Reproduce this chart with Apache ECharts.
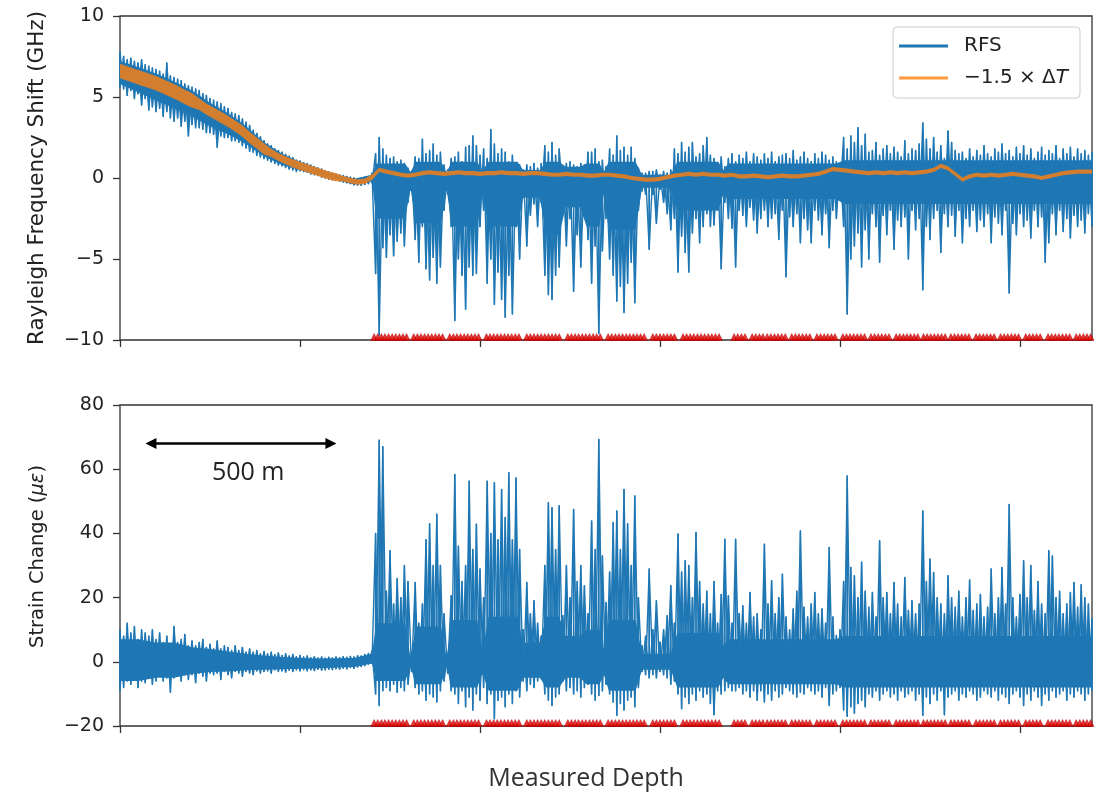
<!DOCTYPE html>
<html>
<head>
<meta charset="utf-8">
<title>Rayleigh frequency shift and strain change vs measured depth</title>
<script src="https://cdn.jsdelivr.net/npm/echarts@6/dist/echarts.min.js"></script>
<style>
  html, body { margin: 0; padding: 0; background: #ffffff; }
  #chart { width: 1107px; height: 792px; }
</style>
</head>
<body>
<div id="chart"></div>
<script>
// ---- data -----------------------------------------------------------------
// Depth sampling of the envelope arrays (m). Each entry holds the upper and
// lower extent of the trace inside that depth bin.
const depthStep = 10;

// Rayleigh frequency shift, GHz (0 m .. 2700 m)
const rfsHigh = [
  7.8,7.5,7.3,7.4,7.2,7.1,7.3,7.0,6.9,6.8,
  6.7,6.6,6.4,7.1,6.3,6.2,6.1,6.0,5.8,5.7,
  5.6,5.5,5.4,5.2,5.1,4.9,4.8,4.7,4.6,4.4,
  4.3,4.05,3.95,3.85,3.65,3.45,3.25,2.95,2.75,2.55,
  2.3,2.1,2.0,1.8,1.7,1.6,1.45,1.35,1.25,1.1,
  1.05,0.95,0.9,0.8,0.7,0.62,0.55,0.45,0.38,0.3,
  0.25,0.2,0.15,0.1,0.05,0.0,-0.05,-0.02,0.05,0.1,
  0.3,
  1.5,2.5,1.8,1.4,1.2,1.3,1.0,1.1,0.9,0.6,
  0.4,1.3,1.2,2.4,1.5,1.7,2.1,1.4,1.6,0.8,
  0.5,1.2,1.3,1.6,1.0,1.9,2.0,2.6,2.0,1.4,
  1.8,1.2,3.0,2.1,1.5,1.8,1.6,1.0,1.4,0.9,
  0.8,0.5,0.8,0.7,0.9,0.6,0.9,2.0,1.6,2.2,
  1.4,1.8,0.6,0.9,1.0,0.8,0.7,0.9,0.8,1.6,
  1.6,1.8,1.0,1.1,0.7,1.8,1.4,2.6,1.7,1.9,
  1.4,1.9,1.2,0.6,0.3,0.3,0.4,0.4,0.5,0.2,
  0.4,0.3,0.5,1.8,1.5,2.2,1.6,1.9,2.2,1.3,
  1.5,2.0,2.5,1.4,1.2,0.8,1.3,0.7,1.2,1.5,
  1.0,1.4,1.2,1.6,1.0,1.5,1.3,1.1,1.5,1.2,
  1.6,1.0,1.3,1.4,1.5,1.2,1.7,1.1,1.3,1.6,
  1.2,1.0,1.5,1.2,1.6,1.4,1.1,1.3,1.0,0.9,
  2.5,1.8,2.6,2.2,3.1,2.0,2.7,1.6,1.7,2.2,
  1.4,1.8,2.0,1.5,1.9,1.6,1.3,2.3,1.5,1.8,
  1.7,2.1,3.4,2.4,1.8,2.5,1.6,2.0,1.2,2.9,
  2.2,1.7,1.5,1.6,1.2,1.8,1.3,1.7,1.4,2.0,
  1.5,1.3,1.8,1.6,2.1,1.5,1.7,1.3,1.9,1.5,
  2.0,1.4,1.8,1.2,1.6,1.9,1.4,1.7,1.5,2.0,
  1.2,1.8,1.5,1.9,1.3,1.8,1.5,1.7,1.4,1.6
];
const rfsLow = [
  5.6,5.5,5.1,5.4,4.9,5.2,4.5,4.9,4.2,4.4,
  4.1,4.3,3.8,4.1,3.7,3.5,3.7,3.2,3.5,2.6,
  3.3,3.1,3.1,3.0,2.8,2.8,2.7,1.9,2.6,2.5,
  2.5,2.3,2.3,2.2,2.0,1.85,1.65,1.6,1.4,1.3,
  1.2,1.1,1.0,0.9,0.8,0.75,0.65,0.55,0.5,0.4,
  0.45,0.4,0.35,0.25,0.2,0.15,0.05,0.0,-0.08,-0.12,
  -0.15,-0.2,-0.25,-0.3,-0.35,-0.42,-0.45,-0.45,-0.4,-0.35,
  -0.3,
  -5.9,-9.7,-4.3,-4.9,-3.5,-4.8,-3.9,-3.4,-4.2,-1.5,
  -0.8,-3.8,-5.2,-3.0,-5.6,-6.3,-4.9,-6.5,-5.5,-2.0,
  -1.0,-3.0,-8.8,-5.0,-6.0,-8.1,-5.5,-6.0,-5.9,-3.0,
  -2.0,-6.5,-5.0,-7.8,-5.8,-7.5,-8.6,-6.0,-8.4,-3.0,
  -5.0,-1.2,-4.2,-2.3,-1.6,-3.0,-1.5,-6.0,-7.2,-7.5,
  -6.0,-5.5,-1.0,-4.2,-2.5,-7.0,-3.5,-5.5,-2.0,-3.8,
  -6.5,-4.2,-9.6,-4.5,-2.5,-5.0,-6.0,-7.6,-6.7,-8.3,
  -6.5,-5.2,-7.7,-2.0,-0.8,-1.0,-4.4,-1.0,-2.8,-0.7,
  -1.5,-2.2,-3.2,-2.5,-5.8,-3.6,-4.6,-5.8,-3.4,-2.5,
  -4.0,-3.0,-2.2,-3.0,-2.9,-2.0,-5.6,-1.5,-2.5,-3.1,
  -5.5,-2.0,-2.3,-3.0,-1.8,-2.6,-3.4,-2.5,-2.0,-3.0,
  -2.5,-2.2,-3.8,-2.0,-6.1,-2.4,-3.0,-2.2,-4.0,-2.5,
  -3.2,-4.0,-2.0,-2.6,-3.5,-2.2,-4.3,-2.0,-2.5,-1.0,
  -3.0,-8.4,-5.0,-4.2,-3.4,-5.5,-3.2,-5.0,-2.2,-3.0,
  -5.2,-2.3,-3.5,-2.0,-4.4,-2.6,-3.0,-2.4,-5.0,-2.0,
  -3.2,-2.5,-6.9,-3.0,-3.8,-2.5,-2.0,-4.6,-2.2,-3.0,
  -2.3,-3.6,-2.0,-4.0,-2.5,-3.0,-2.0,-3.3,-2.6,-3.0,
  -2.2,-4.0,-2.4,-2.8,-3.5,-2.0,-7.1,-2.8,-3.5,-2.2,
  -3.0,-2.6,-3.7,-2.0,-3.0,-2.4,-5.2,-4.0,-2.2,-3.5,
  -2.0,-3.3,-2.5,-3.7,-2.3,-3.0,-2.6,-3.4,-2.2,-3.0
];

// Dense (solid) part of both traces, at the depths where it changes (m)
const coreDepths = [
  0,50,100,150,200,250,300,350,400,450,500,550,600,650,700,
  712,792,806,808,822,892,906,908,922,992,1006,1008,1024,1104,
  1120,1166,1184,1220,1238,1278,1296,1332,1344,1358,1432,1450,
  1530,1548,1662,1676,1690,1990,2010,2700
];
const rfsCoreHigh = [
  7.2,6.85,6.45,5.95,5.4,4.65,4.0,3.2,2.2,1.5,1.0,0.6,0.22,-0.04,0.2,
  0.9,0.9,0.4,0.4,1.0,1.0,0.4,0.4,1.0,1.0,0.5,0.5,1.0,1.0,
  0.5,0.5,1.0,1.0,0.7,0.7,0.9,0.9,0.4,1.0,1.0,0.2,
  0.2,1.0,1.0,0.5,0.9,0.9,1.1,1.1
];
const rfsCoreLow = [
  5.8,5.3,4.8,4.3,3.8,3.2,2.7,2.1,1.35,0.8,0.5,0.15,-0.13,-0.4,-0.2,
  -2.5,-2.5,-0.8,-0.8,-2.8,-2.8,-0.8,-0.8,-3.0,-3.0,-1.0,-1.0,-3.0,-3.0,
  -1.2,-1.2,-3.5,-3.5,-1.8,-1.8,-3.0,-3.0,-1.0,-3.2,-3.2,-0.6,
  -0.6,-2.0,-2.0,-1.0,-1.3,-1.3,-1.6,-1.6
];
const strainCoreHigh = [
  7,7,6,6,4.5,4,3.2,2.5,2,1.5,1.2,1,1.1,1.2,2.5,
  12,12,2,2,11,11,2,2,13,13,4,4,14,14,
  6,6,14,14,8,8,10,10,4,13,13,2.5,
  2.5,9,9,5,7,7,8,8
];
const strainCoreLow = [
  -6,-6,-5,-5,-3.8,-3.2,-3,-2.6,-2.5,-2.3,-2.2,-2,-1.8,-1.6,-0.5,
  -6,-6,-2,-2,-7,-7,-2,-2,-8,-8,-4,-4,-9,-9,
  -5,-5,-8,-8,-5,-5,-7,-7,-4,-9,-9,-2.5,
  -2.5,-8,-8,-5,-7,-7,-8,-8
];

// -1.5 x temperature change (GHz), sampled every 20 m: centre and half band
const tempStep = 20;
const tempMid = [
  6.6,6.45,6.3,6.15,6.0,5.85,5.65,5.45,5.25,5.0,
  4.8,4.55,4.25,4.0,3.75,3.5,3.2,2.9,2.5,2.15,
  1.8,1.55,1.3,1.1,0.9,0.75,0.6,0.45,0.3,0.15,
  0.05,-0.05,-0.15,-0.25,-0.2,0.05,0.5,0.4,0.3,0.2,
  0.15,0.2,0.3,0.35,0.3,0.25,0.3,0.35,0.3,0.3,
  0.25,0.3,0.3,0.35,0.3,0.3,0.25,0.3,0.3,0.25,
  0.2,0.2,0.25,0.2,0.2,0.15,0.15,0.2,0.2,0.15,
  0.1,0.0,-0.05,-0.1,-0.1,-0.05,0.05,0.15,0.2,0.25,
  0.2,0.25,0.2,0.2,0.15,0.2,0.1,0.1,0.15,0.1,
  0.05,0.1,0.15,0.1,0.1,0.15,0.2,0.25,0.4,0.55,
  0.5,0.45,0.4,0.35,0.3,0.35,0.3,0.35,0.3,0.35,
  0.3,0.35,0.4,0.5,0.75,0.6,0.25,-0.1,0.1,0.2,
  0.15,0.2,0.15,0.2,0.25,0.2,0.15,0.1,0.0,0.1,
  0.2,0.3,0.35,0.4,0.4,0.4
];
const tempHalfWidth = [
  0.45,0.45,0.45,0.45,0.45,0.45,0.45,0.45,0.45,0.45,
  0.45,0.35,0.35,0.35,0.35,0.35,0.35,0.35,0.35,0.35,
  0.35,0.25,0.25,0.25,0.25,0.25,0.25,0.25,0.25,0.25,
  0.25,0.17,0.17,0.17,0.17,0.17,0.13,0.13,0.13,0.13,
  0.13,0.13,0.13,0.13,0.13,0.13,0.13,0.13,0.13,0.13,
  0.13,0.13,0.13,0.13,0.13,0.13,0.13,0.13,0.13,0.13,
  0.13,0.13,0.13,0.13,0.13,0.13,0.13,0.13,0.13,0.13,
  0.13,0.13,0.13,0.13,0.13,0.13,0.13,0.13,0.13,0.13,
  0.13,0.13,0.13,0.13,0.13,0.13,0.13,0.13,0.13,0.13,
  0.13,0.13,0.13,0.13,0.13,0.13,0.13,0.13,0.13,0.13,
  0.13,0.13,0.13,0.13,0.13,0.13,0.13,0.13,0.13,0.13,
  0.13,0.13,0.13,0.13,0.13,0.13,0.13,0.13,0.13,0.13,
  0.13,0.13,0.13,0.13,0.13,0.13,0.13,0.13,0.13,0.13,
  0.13,0.13,0.13,0.13,0.13,0.13
];

// Strain change, microstrain (0 m .. 2700 m)
const strainHigh = [
  10,8,12,9,11,7,10,9,8,10,
  7,9,6,8,5.5,11,6,7,8.5,5,
  6.5,5,6,7,4.5,5.5,4,6.5,4,5,
  4.5,3.5,5,3.5,4.5,3,4,3,3.5,2.5,
  3.2,2.5,3,2.2,2.8,2,2.5,1.8,2.3,1.6,
  2,1.5,1.8,1.3,1.6,1.2,1.5,1.1,1.4,1.2,
  1.5,1.3,1.6,1.4,1.7,1.5,1.9,1.8,2.3,2.6,
  3.5,
  40,69,67,22,34.6,18,26,20,30,25,
  3,24.7,12,18,38,43,30,46,30,15,
  2.5,20.6,58.4,36,25,30,56.3,35,42.9,28.9,
  20,56.3,40,55.8,38,53.7,45,58.9,38,57.3,
  35,10,24.7,15,19,12,8,30,49.6,48,
  35,48.6,14.4,30,20,47.5,25,30,23.7,15,
  43.9,35,69.3,33,18.5,28,43.4,47,35,53.7,
  43,30,51.7,20,5,8,28.9,10,19,6.1,
  10,14.4,23.7,12,39.8,28,31.5,30,20,40.3,
  25,18,22,15,25,12,21,38.2,20.6,12,
  38.2,15,17.5,12,21.6,14,15,10,36.6,18,
  25.3,15,20,27.3,14,10,16.5,22,40.8,17,
  14,18,21.6,15,16.5,12,35.6,14,8.2,10,
  25,57.9,29.4,26.8,20,31,22,17,21.6,14,
  37.7,20,21.6,15,24.7,18,14,26.3,16,19,
  15,18,47,25,32,27.8,20,18,15,26.8,
  20,17,22,14,20,25.5,16,18,21,14,
  17,28.9,15,20,29.4,18,49,20,14,21,
  31.5,20,30,16,25,18,15,34.6,33,20,
  22,15,18,21.6,24.7,17,24,20,18,13.4
];
const strainLow = [
  -9,-8,-6,-7,-5.5,-8,-6,-6.5,-5,-7,
  -6,-4.5,-6,-5,-9.5,-5,-4.5,-6,-4,-5.5,
  -4,-6.5,-3.5,-4.5,-6,-3.5,-4,-3.5,-5.5,-3,
  -4,-5,-3,-3.5,-4.5,-3,-3.5,-4,-2.8,-3.5,
  -3,-2.8,-3.5,-2.5,-3,-2.8,-3.2,-2.6,-3,-2.5,
  -2.8,-2.4,-2.8,-2.5,-2.7,-2.3,-2.6,-2.5,-2.3,-2.4,
  -2.2,-2.3,-2.0,-2.2,-1.8,-2.0,-1.6,-1.5,-1.2,-0.8,
  -0.5,
  -10,-13.6,-9,-8,-9,-7,-9.5,-8,-9,-7,
  -3,-8,-10,-9,-12,-10,-11,-12.5,-9,-6,
  -3.5,-9,-10,-13,-9,-14,-11,-15,-10,-12,
  -8,-13,-10,-17.7,-12,-11,-14,-10,-13,-9,
  -11,-6,-9,-7,-8,-6,-5,-10,-12,-13.6,
  -11,-10,-6,-9,-8,-10,-9,-11,-8,-7,
  -10,-12,-10.5,-9,-7,-10,-12.5,-16.7,-13,-15,
  -12,-11,-14,-8,-3,-4,-5,-4,-5,-3,
  -4,-5,-7,-6,-10,-14.6,-11,-13,-10,-12,
  -9,-11,-10,-13,-16.5,-9,-10,-9,-8,-9,
  -9,-8,-10,-9,-11,-9,-12,-9,-12.5,-10,
  -12,-9,-11,-10,-8,-9,-10,-11,-9.5,-10,
  -8,-9,-10,-9,-11,-8,-13.6,-10,-9,-8,
  -15,-17,-14,-16,-13,-12,-14,-10,-11,-9,
  -12,-10,-9,-11,-10,-12,-9,-11,-10,-9,
  -12,-10,-16.7,-11,-13,-10,-12,-9,-16.5,-11,
  -10,-9,-12,-10,-11,-9,-10,-12,-11,-9,
  -10,-11,-9,-12,-10,-11,-13,-10,-9,-11,
  -13.6,-10,-12,-9,-11,-13.6,-10,-12,-9,-11,
  -10,-9,-12,-10,-11,-9,-10,-12,-10,-9
];

// Depths (m) flagged by the red markers along the bottom of both panels
const gaugeDepths = [
  706,716,726,736,746,756,766,776,786,796,
  816,826,836,846,856,866,876,886,896,
  916,926,936,946,956,966,976,986,996,
  1018,1028,1038,1048,1058,1068,1078,1088,1098,1108,
  1130,1140,1150,1160,1170,1180,1190,1200,1210,1220,
  1244,1254,1264,1274,1284,1294,1304,1314,1324,1334,
  1356,1366,1376,1386,1396,1406,1416,1426,1436,1446,1456,
  1480,1490,1500,1510,1520,1530,1540,
  1564,1574,1584,1594,1604,1614,1624,1634,1644,1654,1664,
  1706,1716,1726,1736,
  1756,1766,1776,1786,
  1798,1808,1818,1828,1838,1848,
  1866,1876,1886,1896,1906,1916,
  1936,1946,1956,1966,1976,1986,
  2008,2018,2028,2038,2048,2058,2068,
  2086,2096,2106,2116,2126,2136,
  2156,2166,2176,2186,2196,2206,2216,
  2232,2242,2252,2262,2272,2282,2292,
  2308,2318,2328,2338,2348,2358,
  2378,2388,2398,2408,2418,2428,
  2446,2456,2466,2476,2486,2496,
  2516,2526,2536,2546,2556,
  2578,2588,2598,2608,2618,2628,2638,
  2656,2666,2676,2686,2696
];

// Axis ticks
const depthTicks = [0, 500, 1000, 1500, 2000, 2500];
const rfsTicks = [-10, -5, 0, 5, 10];
const strainTicks = [-20, 0, 20, 40, 60, 80];

// Scale bar: 500 m double arrow in the strain panel
const scaleBar = { from: 86, length: 500, level: 68, labelAt: [356, 59], text: '500 m' };

// ---- drawing ---------------------------------------------------------------
const BLUE = '#1f77b4';
const ORANGE = 'rgba(255,127,14,0.8)';
const RED = '#e00000';
const INK = '#222222';
const FRAME = '#333333';

// zig-zag through each bin's extent; `fromTop` picks which end is visited first,
// so two passes in opposite order cross each other inside every bin
function envelopePath(high, low, step, fromTop) {
  const pts = [];
  for (let i = 0; i < high.length; i++) {
    const d = i * step;
    if (fromTop) pts.push([d, high[i]], [d, low[i]]);
    else pts.push([d, low[i]], [d, high[i]]);
  }
  return pts;
}

function traceSeries(name, axisIndex, high, low, fromTop, extra) {
  return Object.assign({
    name: name, type: 'line', xAxisIndex: axisIndex, yAxisIndex: axisIndex,
    data: envelopePath(high, low, depthStep, fromTop),
    symbol: 'none', color: BLUE, silent: true, z: 2,
    lineStyle: { color: BLUE, width: 1.4, join: 'round' }
  }, extra || {});
}

// filled band between two sampled curves, drawn through the axis scales
function bandSeries(name, axisIndex, depths, high, low, color, z) {
  return {
    name: name, type: 'custom', xAxisIndex: axisIndex, yAxisIndex: axisIndex,
    data: [[0, 0]], clip: true, silent: true, z: z,
    itemStyle: { color: color },
    renderItem: function (params, api) {
      const top = high.map((v, i) => api.coord([depths[i], v]));
      const bottom = low.map((v, i) => api.coord([depths[i], v])).reverse();
      return { type: 'polygon', shape: { points: top.concat(bottom) }, style: { fill: color } };
    }
  };
}

const tempDepths = tempMid.map((m, i) => i * tempStep);
const tempHigh = tempMid.map((m, i) => m + tempHalfWidth[i]);
const tempLow = tempMid.map((m, i) => m - tempHalfWidth[i]);

const minus = v => String(v).replace('-', '\u2212');

const tickStyle = { show: true, length: 7, inside: false, lineStyle: { color: FRAME, width: 1.3 } };
const tickLabel = { fontFamily: 'DejaVu Sans', fontSize: 19, color: INK, margin: 16, formatter: minus };
const noLine = { show: false, onZero: false };

const chart = echarts.init(document.getElementById('chart'), null, { renderer: 'canvas' });

chart.setOption({
  animation: false,
  backgroundColor: '#ffffff',
  textStyle: { fontFamily: 'DejaVu Sans' },
  grid: [
    { left: 120, top: 16, width: 972, height: 324, show: true, borderColor: FRAME, borderWidth: 1.3, backgroundColor: 'transparent' },
    { left: 120, top: 405, width: 972, height: 322, show: true, borderColor: FRAME, borderWidth: 1.3, backgroundColor: 'transparent' }
  ],
  xAxis: [
    {
      type: 'value', gridIndex: 0, min: 0, max: 2700, interval: 500,
      axisLine: noLine, splitLine: { show: false },
      axisTick: Object.assign({ customValues: depthTicks }, tickStyle),
      axisLabel: { show: false }
    },
    {
      type: 'value', gridIndex: 1, min: 0, max: 2700, interval: 500,
      axisLine: noLine, splitLine: { show: false },
      axisTick: Object.assign({ customValues: depthTicks }, tickStyle),
      axisLabel: { show: false },
      name: 'Measured Depth', nameLocation: 'middle', nameGap: 40,
      nameTextStyle: { fontFamily: 'Open Sans', fontSize: 25, color: '#333333', padding: [0, 40, 0, 0] }
    }
  ],
  yAxis: [
    {
      type: 'value', gridIndex: 0, min: -10, max: 10, interval: 5,
      axisLine: noLine, splitLine: { show: false },
      axisTick: Object.assign({ customValues: rfsTicks }, tickStyle),
      axisLabel: Object.assign({ customValues: rfsTicks }, tickLabel),
      name: 'Rayleigh Frequency Shift (GHz)', nameLocation: 'middle', nameGap: 72,
      nameTextStyle: { fontFamily: 'DejaVu Sans', fontSize: 21.5, color: INK }
    },
    {
      type: 'value', gridIndex: 1, min: -20, max: 80, interval: 20,
      axisLine: noLine, splitLine: { show: false },
      axisTick: Object.assign({ customValues: strainTicks }, tickStyle),
      axisLabel: Object.assign({ customValues: strainTicks }, tickLabel),
      name: '{n|Strain Change (}{i|\u03bc\u03b5}{n|)}', nameLocation: 'middle', nameGap: 72,
      nameTextStyle: {
        fontFamily: 'DejaVu Sans', fontSize: 19.5, color: INK, padding: [0, 0, 0, 18],
        rich: {
          n: { fontFamily: 'DejaVu Sans', fontSize: 19.5, color: INK },
          i: { fontFamily: 'DejaVu Sans', fontSize: 19.5, fontStyle: 'italic', color: INK }
        }
      }
    }
  ],
  legend: {
    data: ['RFS', '\u22121.5 \u00d7 \u0394T'],
    orient: 'vertical', right: 27, top: 27,
    icon: 'rect', itemWidth: 49, itemHeight: 3, itemGap: 10,
    padding: [8, 12, 9, 6],
    borderColor: '#cccccc', borderWidth: 1, borderRadius: 4,
    backgroundColor: 'rgba(255,255,255,0.85)',
    selectedMode: false,
    itemStyle: { borderWidth: 0 },
    formatter: name => name === 'RFS' ? 'RFS' : '{n|\u22121.5 \u00d7 \u0394}{i|T}',
    textStyle: {
      fontFamily: 'DejaVu Sans', fontSize: 20, color: INK, lineHeight: 22, padding: [0, 0, 0, 11],
      rich: {
        n: { fontFamily: 'DejaVu Sans', fontSize: 20, color: INK, lineHeight: 22 },
        i: { fontFamily: 'DejaVu Sans', fontSize: 20, fontStyle: 'italic', color: INK, lineHeight: 22 }
      }
    }
  },
  series: [
    bandSeries('rfsCore', 0, coreDepths, rfsCoreHigh, rfsCoreLow, BLUE, 1),
    traceSeries('RFS', 0, rfsHigh, rfsLow, true),
    traceSeries('rfsCross', 0, rfsHigh, rfsLow, false),
    bandSeries('\u22121.5 \u00d7 \u0394T', 0, tempDepths, tempHigh, tempLow, ORANGE, 3),
    {
      name: 'rfsGauges', type: 'scatter', xAxisIndex: 0, yAxisIndex: 0,
      data: gaugeDepths.map(d => [d, rfsTicks[0]]),
      symbol: 'triangle', symbolSize: 7, symbolOffset: [0, -3],
      itemStyle: { color: RED, borderColor: '#a80000', borderWidth: 0.5 },
      silent: true, z: 5
    },
    bandSeries('strainCore', 1, coreDepths, strainCoreHigh, strainCoreLow, BLUE, 1),
    traceSeries('Strain', 1, strainHigh, strainLow, true, {
      markLine: {
        silent: true, symbol: ['triangle', 'triangle'], symbolSize: 11,
        label: { show: false },
        lineStyle: { color: '#000000', width: 2.5, type: 'solid' },
        emphasis: { disabled: true },
        data: [[
          { coord: [scaleBar.from, scaleBar.level] },
          { coord: [scaleBar.from + scaleBar.length, scaleBar.level] }
        ]]
      },
      markPoint: {
        silent: true,
        data: [{
          coord: scaleBar.labelAt, symbol: 'circle', symbolSize: 0,
          label: { show: true, position: 'inside', formatter: scaleBar.text, fontFamily: 'Open Sans', fontSize: 25, color: INK }
        }]
      }
    }),
    traceSeries('strainCross', 1, strainHigh, strainLow, false),
    {
      name: 'strainGauges', type: 'scatter', xAxisIndex: 1, yAxisIndex: 1,
      data: gaugeDepths.map(d => [d, strainTicks[0]]),
      symbol: 'triangle', symbolSize: 7, symbolOffset: [0, -3],
      itemStyle: { color: RED, borderColor: '#a80000', borderWidth: 0.5 },
      silent: true, z: 5
    }
  ]
});
</script>
</body>
</html>
